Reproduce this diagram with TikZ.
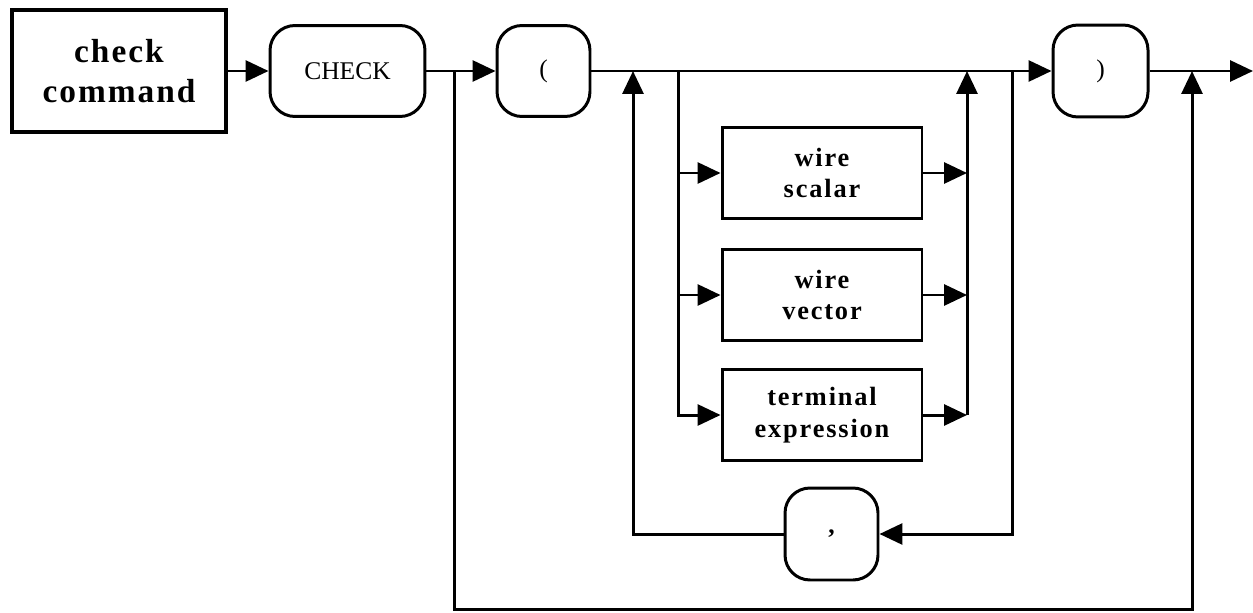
\documentclass[tikz,border=0pt]{standalone}
\usepackage{fontspec}
\setmainfont{Liberation Serif}
\newfontfamily\spacedbold[LetterSpace=6]{Liberation Serif Bold}
\newfontfamily\boxbold[LetterSpace=7]{Liberation Serif Bold}
\usetikzlibrary{arrows.meta}
\begin{document}
\begin{tikzpicture}[x=0.02cm,y=-0.02cm,
  line width=1.7pt,
  arr/.style={-{Triangle[length=0.46cm,width=0.42cm]}},
  defbox/.style={draw,line width=2.8pt,minimum width=4.28cm,minimum height=2.44cm,align=center,inner sep=0pt,font=\spacedbold\fontsize{19}{23}\selectfont},
  termbox/.style={draw,rounded corners=0.5cm,minimum height=1.82cm,inner sep=0pt,font=\fontsize{14.5}{17}\selectfont},
  ntbox/.style={draw,minimum width=4.0cm,minimum height=1.82cm,align=center,inner sep=0pt,font=\boxbold\fontsize{15}{18}\selectfont}]
\useasboundingbox (0,0) rectangle (1253,612);
% nodes
\node[defbox] (cc) at (119,71) {check\\command};
\node[termbox,minimum width=3.1cm] (chk) at (347.5,71) {CHECK};
\node[termbox,minimum width=1.86cm] (lp) at (543.5,71) {(};
\node[ntbox] (ws) at (822,173) {wire\\scalar};
\node[ntbox] (wv) at (822,295) {wire\\vector};
\node[ntbox] (te) at (822,415) {terminal\\expression};
\node[termbox,minimum width=1.86cm,minimum height=1.84cm,font=\bfseries\fontsize{14.5}{17}\selectfont] (cm) at (831.5,534) {,};
\node[termbox,minimum width=1.9cm,minimum height=1.84cm] (rp) at (1100.5,71) {)};
% coordinates
\coordinate (j1) at (454,71);
\coordinate (b1) at (454,609);
\coordinate (j2) at (633,71);
\coordinate (j3) at (678,71);
\coordinate (j4) at (967,71);
\coordinate (j5) at (1012,71);
\coordinate (j6) at (1192,71);
\coordinate (end) at (1253,71);
% main line
\draw[arr] (cc.east) -- (chk.west);
\draw[arr] (chk.east) -- (lp.west);
\draw[arr] (lp.east) -- (rp.west);
\draw[arr] (rp.east) -- (end);
% alternatives
\draw[arr] (j3) |- (ws.west);
\draw[arr] (j3) |- (wv.west);
\draw[arr] (j3) |- (te.west);
\draw[arr] (ws.east) -- (ws.east -| j4);
\draw[arr] (wv.east) -- (wv.east -| j4);
\draw[arr] (te.east) -- (te.east -| j4);
\draw[arr] (te.east -| j4) -- (j4);
% comma loop
\draw[arr] (j5) |- (cm.east);
\draw[arr] (cm.west) -| (j2);
% bypass
\draw[arr] (j1) -- (b1) -| (j6);
\end{tikzpicture}
\end{document}
